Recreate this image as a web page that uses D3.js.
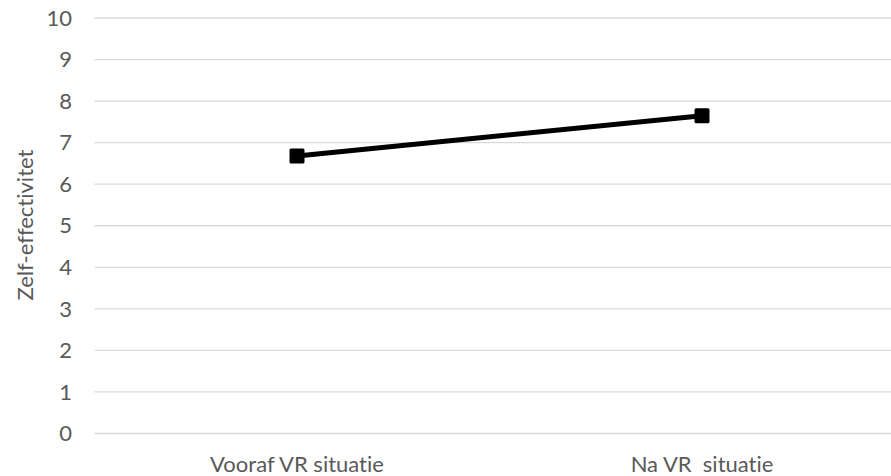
<!DOCTYPE html>
<html>
<head>
<meta charset="utf-8">
<script src="https://cdn.jsdelivr.net/npm/d3@7"></script>
<style>
  html, body { margin: 0; padding: 0; background: #fff; }
  svg { display: block; }
  text {
    font-family: Lato, "Open Sans", sans-serif;
    fill: #595959;
    font-variant-ligatures: none;
    font-feature-settings: "liga" 0, "clig" 0;
  }
</style>
</head>
<body>
<svg id="chart" width="891" height="476"></svg>
<script>
// Chart data
const categories = ["Vooraf VR situatie", "Na VR  situatie"];
const values = [6.68, 7.65];
const yTicks = [0, 1, 2, 3, 4, 5, 6, 7, 8, 9, 10];
const yTitle = "Zelf-effectivitet";

const W = 891, H = 476;
const plot = { left: 94.5, right: 904.5, top: 18, bottom: 433.5 };
const fontSize = 22;

const svg = d3.select("#chart");

const x = d3.scaleBand()
  .domain(categories)
  .range([plot.left, plot.right]);

const y = d3.scaleLinear()
  .domain([0, 10])
  .range([plot.bottom, plot.top]);

// Horizontal gridlines
svg.append("g")
  .selectAll("line")
  .data(yTicks)
  .join("line")
  .attr("x1", plot.left)
  .attr("x2", W)
  .attr("y1", d => y(d))
  .attr("y2", d => y(d))
  .attr("stroke", "#d9d9d9")
  .attr("stroke-width", 1.3);

// Y tick labels
svg.append("g")
  .selectAll("text")
  .data(yTicks)
  .join("text")
  .attr("x", 72)
  .attr("y", d => y(d))
  .attr("dy", "0.35em")
  .attr("text-anchor", "end")
  .attr("font-size", fontSize)
  .text(d => d);

// X category labels
svg.append("g")
  .selectAll("text")
  .data(categories)
  .join("text")
  .attr("x", d => x(d) + x.bandwidth() / 2)
  .attr("y", 472)
  .attr("text-anchor", "middle")
  .attr("font-size", fontSize)
  .attr("xml:space", "preserve")
  .style("white-space", "pre")
  .text(d => d);

// Y axis title
svg.append("text")
  .attr("transform", `translate(33, 225) rotate(-90)`)
  .attr("text-anchor", "middle")
  .attr("font-size", fontSize)
  .text(yTitle);

const pts = categories.map((c, i) => [x(c) + x.bandwidth() / 2, y(values[i])]);

// Series line
svg.append("path")
  .datum(pts)
  .attr("d", d3.line())
  .attr("fill", "none")
  .attr("stroke", "#000")
  .attr("stroke-width", 5)
  .attr("stroke-linecap", "round");

// Square markers
const ms = 15;
svg.append("g")
  .selectAll("rect")
  .data(pts)
  .join("rect")
  .attr("x", d => d[0] - ms / 2)
  .attr("y", d => d[1] - ms / 2)
  .attr("width", ms)
  .attr("height", ms)
  .attr("rx", 1.5)
  .attr("fill", "#000");
</script>
</body>
</html>
